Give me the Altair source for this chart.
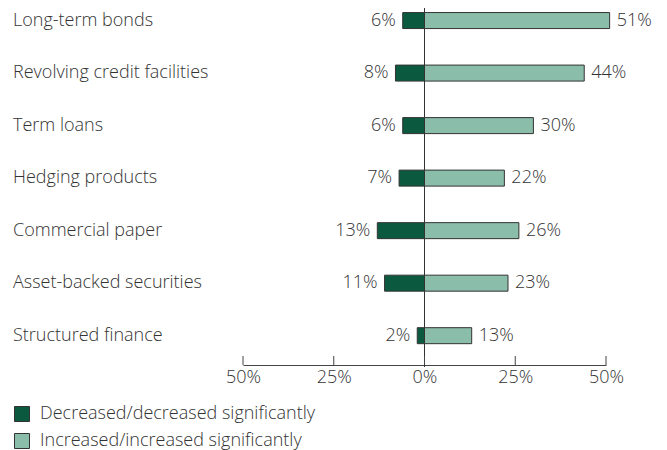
import altair as alt
import pandas as pd

categories = ["Long-term bonds", "Revolving credit facilities", "Term loans",
              "Hedging products", "Commercial paper", "Asset-backed securities",
              "Structured finance"]
decreased = [6, 8, 6, 7, 13, 11, 2]
increased = [51, 44, 30, 22, 26, 23, 13]
series_names = ["Decreased/decreased significantly", "Increased/increased significantly"]
tick_values = [-50, -25, 0, 25, 50]

rows = []
for i, (c, d, n) in enumerate(zip(categories, decreased, increased)):
    rows.append({"cat": c, "idx": i, "series": series_names[0], "start": -d, "end": 0, "val": d})
    rows.append({"cat": c, "idx": i, "series": series_names[1], "start": 0, "end": n, "val": n})
df = pd.DataFrame(rows)
cat_df = pd.DataFrame({"cat": categories, "idx": list(range(len(categories)))})
tick_df = pd.DataFrame({"t": tick_values})

FONT = "Open Sans"
FW = 300
FS = 18
TXT = "#333333"

xscale = alt.Scale(domain=[-50, 50], nice=False, zero=False)
yscale = alt.Scale(domain=[-0.2963, 6.463], reverse=True, nice=False, zero=False)

bars = alt.Chart(df).mark_bar(orient="horizontal", size=16, stroke="#333333", strokeWidth=1).encode(
    x=alt.X("start:Q", scale=xscale,
            axis=alt.Axis(values=tick_values, title=None, ticks=False, grid=False,
                          domain=True, domainColor="#444444", domainWidth=1,
                          labelExpr="abs(datum.value) + '%'", labelFontSize=FS,
                          labelFontWeight=FW, labelFlush=False,
                          labelColor=TXT, labelFont=FONT, labelPadding=3)),
    x2="end:Q",
    y=alt.Y("idx:Q", scale=yscale, axis=None),
    color=alt.Color("series:N",
                    scale=alt.Scale(domain=series_names, range=["#0b5a40", "#8bbdab"]),
                    legend=alt.Legend(title=None, orient="none", legendX=-230, legendY=405,
                                      padding=0, symbolType="square", symbolSize=225,
                                      symbolStrokeColor="#333333", symbolStrokeWidth=1,
                                      labelFontSize=FS, labelColor=TXT, labelFont=FONT,
                                      labelFontWeight=FW, labelLimit=0,
                                      rowPadding=7, labelOffset=9)),
)

dec_text = alt.Chart(df).transform_filter(
    alt.datum.series == series_names[0]
).transform_calculate(label="datum.val + '%'").mark_text(
    align="right", baseline="middle", dx=-7, fontSize=FS, font=FONT, fontWeight=FW, color=TXT
).encode(x="start:Q", y=alt.Y("idx:Q", scale=yscale), text=alt.Text("label:N"))

inc_text = alt.Chart(df).transform_filter(
    alt.datum.series == series_names[1]
).transform_calculate(label="datum.val + '%'").mark_text(
    align="left", baseline="middle", dx=7, fontSize=FS, font=FONT, fontWeight=FW, color=TXT
).encode(x="end:Q", y=alt.Y("idx:Q", scale=yscale), text=alt.Text("label:N"))

cat_text = alt.Chart(cat_df).mark_text(align="left", baseline="middle", fontSize=FS,
                                       font=FONT, fontWeight=FW, color=TXT).encode(
    x=alt.value(-230), y=alt.Y("idx:Q", scale=yscale), text="cat:N"
)

zero_line = alt.Chart(pd.DataFrame({"z": [0]})).mark_rule(color="#333333", strokeWidth=1).encode(
    x="z:Q", y=alt.value(8), y2=alt.value(367)
)

ticks = alt.Chart(tick_df).mark_rule(color="#444444", strokeWidth=1).encode(
    x="t:Q", y=alt.value(356), y2=alt.value(365)
)

chart = alt.layer(zero_line, bars, ticks, dec_text, inc_text, cat_text).properties(
    width=363, height=365,
    background="white",
    autosize=alt.AutoSizeParams(type="none"),
    padding={"left": 243, "top": 0, "right": 61, "bottom": 85},
).configure_view(strokeWidth=0)

chart.save("out.html", embed_options={"renderer": "svg", "actions": False})
